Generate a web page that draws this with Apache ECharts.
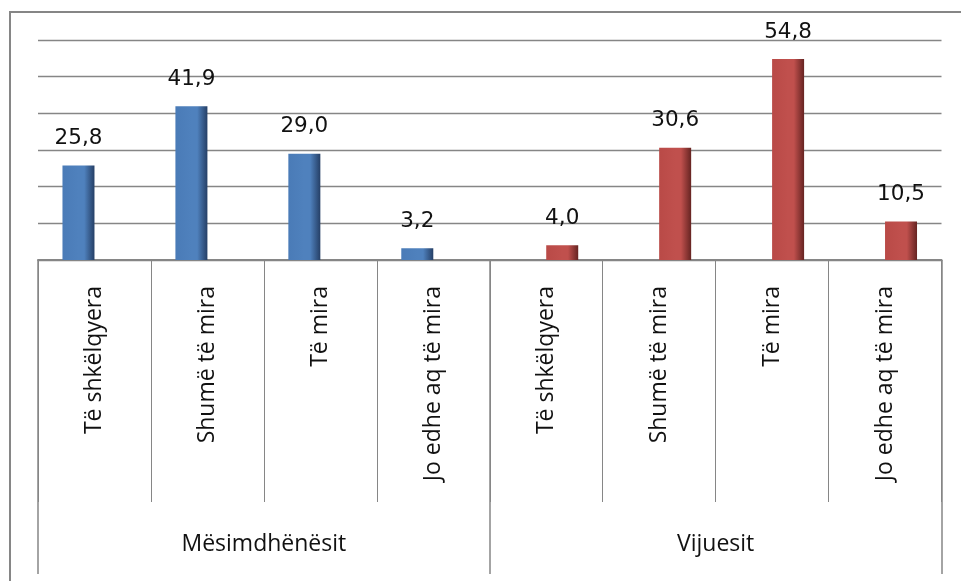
<!DOCTYPE html>
<html>
<head>
<meta charset="utf-8">
<script src="https://cdn.jsdelivr.net/npm/echarts@6/dist/echarts.min.js"></script>
<style>html,body{margin:0;padding:0;background:#fff}#c{width:961px;height:581px}</style>
</head>
<body>
<div id="c"></div>
<script>
const categories = ['Të shkëlqyera', 'Shumë të mira', 'Të mira', 'Jo edhe aq të mira',
                    'Të shkëlqyera', 'Shumë të mira', 'Të mira', 'Jo edhe aq të mira'];
const groups = ['Mësimdhënësit', 'Vijuesit'];
const teachers = [25.8, 41.9, 29.0, 3.2, null, null, null, null];
const learners = [null, null, null, null, 4.0, 30.6, 54.8, 10.5];
const yTicks = [0, 10, 20, 30, 40, 50, 60];

const chart = echarts.init(document.getElementById('c'), null, {renderer: 'canvas'});
const gray = '#868686';
const catFont = "'Open Sans', sans-serif";
function grad(light, mid, dark) {
  return new echarts.graphic.LinearGradient(0, 0, 1, 0, [
    {offset: 0, color: light}, {offset: 0.5, color: mid}, {offset: 0.68, color: mid}, {offset: 1, color: dark}
  ]);
}
const labelCfg = {
  show: true, position: 'top', distance: 16,
  fontFamily: 'DejaVu Sans', fontSize: 21.5, color: '#111',
  formatter: p => p.value == null ? '' : p.value.toFixed(1).replace('.', ',')
};
chart.setOption({
  animation: false,
  grid: {left: 38, right: 19.5, top: 40, bottom: 321},
  xAxis: [{
    type: 'category', data: categories, position: 'bottom',
    axisLine: {show: true, lineStyle: {color: gray, width: 2}},
    axisTick: {show: true, length: 242, interval: 0, lineStyle: {color: gray, width: 1}},
    axisLabel: {interval: 0, rotate: 90, margin: 26, fontFamily: catFont, fontSize: 23, color: '#111'},
    splitLine: {show: false}
  }, {
    type: 'category', data: groups, position: 'bottom',
    axisLine: {show: false},
    axisTick: {show: true, length: 314, interval: 0, lineStyle: {color: gray, width: 1.5}},
    axisLabel: {interval: 0, margin: 273, fontFamily: catFont, fontSize: 23, color: '#111'},
    splitLine: {show: false}
  }],
  yAxis: {
    type: 'value', min: yTicks[0], max: yTicks[yTicks.length - 1], interval: 10,
    axisLine: {show: false}, axisTick: {show: false}, axisLabel: {show: false},
    splitLine: {show: true, lineStyle: {color: gray, width: 1.3}}
  },
  series: [{
    name: groups[0], type: 'bar', data: teachers, barWidth: 32, barGap: '0%',
    itemStyle: {color: grad('#4a7bb7', '#4f81bd', '#253f66')},
    label: labelCfg
  }, {
    name: groups[1], type: 'bar', data: learners, barWidth: 32, barGap: '0%',
    itemStyle: {color: grad('#b94a47', '#c0504d', '#662422')},
    label: labelCfg
  }],
  graphic: [{
    type: 'polyline', silent: true,
    shape: {points: [[10, 581], [10, 12], [961, 12]]},
    style: {stroke: gray, lineWidth: 2, fill: null}
  }]
});
</script>
</body>
</html>
